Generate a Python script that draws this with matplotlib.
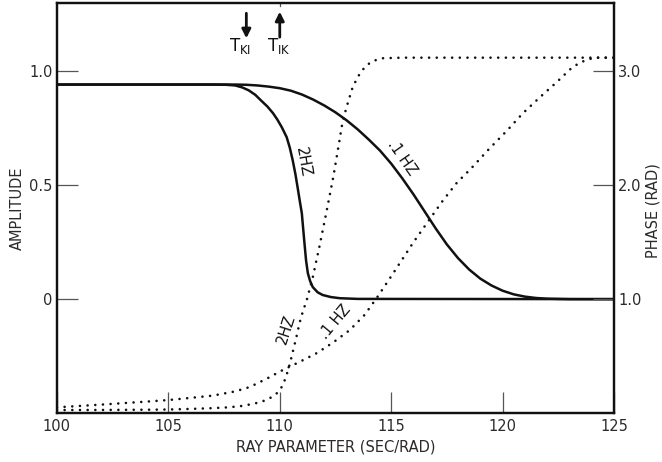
"""Amplitude and phase against ray parameter (2 Hz and .1 Hz)."""
import matplotlib

matplotlib.use("Agg")
matplotlib.rcParams["font.family"] = "DejaVu Sans"
matplotlib.rcParams["mathtext.default"] = "regular"

import matplotlib.pyplot as plt

INK = "#111111"
TEXT = "#2a2a2a"

# amplitude (left axis)
amp2_x = [100, 107.0, 107.6, 108.0, 108.3, 108.6, 108.9, 109.15, 109.45, 109.7, 109.9,
          110.1, 110.31, 110.45, 110.58, 110.7, 110.8, 110.9, 110.99, 111.05, 111.1,
          111.18, 111.26, 111.36, 111.48, 111.7, 111.93, 112.3, 112.7, 113.5, 125]
amp2_y = [0.942, 0.942, 0.941, 0.938, 0.93, 0.917, 0.897, 0.873, 0.845, 0.816, 0.787,
          0.753, 0.711, 0.665, 0.61, 0.55, 0.491, 0.43, 0.377, 0.31, 0.255,
          0.17, 0.114, 0.08, 0.053, 0.03, 0.018, 0.009, 0.004, 0.001, 0]
amp01_x = [100, 108.0, 108.5, 109.0, 109.5, 110.0, 110.5, 111.0, 111.5, 112.0, 112.5,
           113.0, 113.5, 114.0, 114.5, 115.0, 115.5, 116.0, 116.5, 117.0, 117.5,
           118.0, 118.5, 119.0, 119.5, 120.0, 120.5, 121.0, 121.5, 122.0, 123, 125]
amp01_y = [0.942, 0.942, 0.941, 0.938, 0.933, 0.926, 0.915, 0.898, 0.876, 0.85, 0.82,
           0.785, 0.745, 0.70, 0.652, 0.595, 0.53, 0.46, 0.385, 0.31, 0.24,
           0.18, 0.13, 0.09, 0.06, 0.037, 0.021, 0.011, 0.005, 0.002, 0, 0]

# phase (right axis, rad)
ph2_x = [100, 102, 104, 105, 106, 107, 107.7, 108.3, 108.8, 109.2, 109.55, 109.8,
         110.0, 110.15, 110.3, 110.45, 110.6, 110.75, 110.9, 111.05, 111.21, 111.48,
         111.8, 112.1, 112.4, 112.6, 112.83, 113.05, 113.27, 113.5, 113.7, 113.95,
         114.17, 114.6, 115.5, 125]
ph2_y = [0.026, 0.027, 0.029, 0.031, 0.036, 0.043, 0.05, 0.062, 0.08, 0.1, 0.13, 0.16,
         0.2, 0.25, 0.33, 0.43, 0.55, 0.67, 0.8, 0.9, 0.99, 1.19,
         1.48, 1.77, 2.07, 2.3, 2.57, 2.72, 2.86, 2.95, 3.01, 3.06,
         3.09, 3.115, 3.12, 3.12]
ph01_x = [100, 101, 102, 103, 104, 105, 106, 107, 108, 108.65, 109.4, 110.13, 110.9,
          111.66, 112.4, 113.14, 113.8, 114.35, 115.0, 115.4, 116.0, 116.65, 117.3,
          117.94, 118.6, 119.4, 120.2, 120.9, 121.66, 122.4, 123.1, 123.5, 123.8,
          124.1, 125]
ph01_y = [0.05, 0.062, 0.074, 0.087, 0.1, 0.114, 0.133, 0.153, 0.19, 0.228, 0.3, 0.377,
          0.45, 0.526, 0.62, 0.728, 0.86, 1.01, 1.2, 1.32, 1.5, 1.68, 1.86,
          2.02, 2.15, 2.32, 2.48, 2.63, 2.77, 2.9, 3.03, 3.08, 3.1,
          3.12, 3.12]

x_ticks = [100, 105, 110, 115, 120, 125]
amp_ticks = [0, 0.5, 1.0]
amp_labels = ["0", "0.5", "1.0"]
ph_ticks = [1.0, 2.0, 3.0]
ph_labels = ["1.0", "2.0", "3.0"]

fig = plt.figure(figsize=(6.62, 4.62), dpi=100)
ax = fig.add_axes([0.086, 0.106, 0.8415, 0.8875])
ax2 = ax.twinx()

ax.plot(amp2_x, amp2_y, color=INK, lw=1.8, solid_joinstyle="round")
ax.plot(amp01_x, amp01_y, color=INK, lw=1.8, solid_joinstyle="round")
dots = dict(color=INK, lw=1.9, linestyle=(0, (0.01, 2.9)), dash_capstyle="round")
ax2.plot(ph2_x, ph2_y, **dots)
ax2.plot(ph01_x, ph01_y, **dots)

ax.set_xlim(100, 125)
ax.set_ylim(-0.5, 1.3)
ax2.set_ylim(0, 3.6)

ax.set_xticks(x_ticks)
ax.set_yticks(amp_ticks)
ax.set_yticklabels(amp_labels)
ax2.set_yticks(ph_ticks)
ax2.set_yticklabels(ph_labels)
for a in (ax, ax2):
    a.tick_params(direction="in", length=15, width=0.9, color="#555555",
                  labelsize=10.5, labelcolor=TEXT, pad=3)
    for s in a.spines.values():
        s.set_linewidth(1.6)
        s.set_color(INK)
ax.tick_params(axis="x", pad=4)

ax.set_xlabel("RAY PARAMETER (SEC/RAD)", fontsize=10.5, color=TEXT, labelpad=4)
ax.set_ylabel("AMPLITUDE", fontsize=10.5, color=TEXT, labelpad=3)
fig.text(0.987, 0.545, "PHASE (RAD)", rotation=90, fontsize=10.5, color=TEXT,
         ha="center", va="center")

# small top tick at 110
ax.plot([110, 110], [1.3, 1.285], color="#555555", lw=0.9, clip_on=False)

# arrows and critical-parameter marks
arrow = dict(arrowstyle="-|>", lw=2.0, color=INK, mutation_scale=13, shrinkA=0, shrinkB=0)
ax.annotate("", xy=(108.5, 1.145), xytext=(108.5, 1.255), arrowprops=arrow)
ax.annotate("", xy=(110.0, 1.262), xytext=(110.0, 1.15), arrowprops=arrow)
ax.text(108.2, 1.11, "T$_{KI}$", fontsize=12, color=INK, ha="center", va="center")
ax.text(109.95, 1.11, "T$_{IK}$", fontsize=12, color=INK, ha="center", va="center")

# curve labels
lab = dict(fontsize=10.5, color=INK, ha="center", va="center")
ax.text(111.05, 0.60, "2HZ", rotation=-80, **lab)
ax.text(115.5, 0.62, ".1 HZ", rotation=-55, **lab)
ax.text(110.3, -0.13, "2HZ", rotation=72, **lab)
ax.text(112.5, -0.10, ".1 HZ", rotation=50, **lab)

fig.savefig("out.png", dpi=100, facecolor="white")
plt.close(fig)
